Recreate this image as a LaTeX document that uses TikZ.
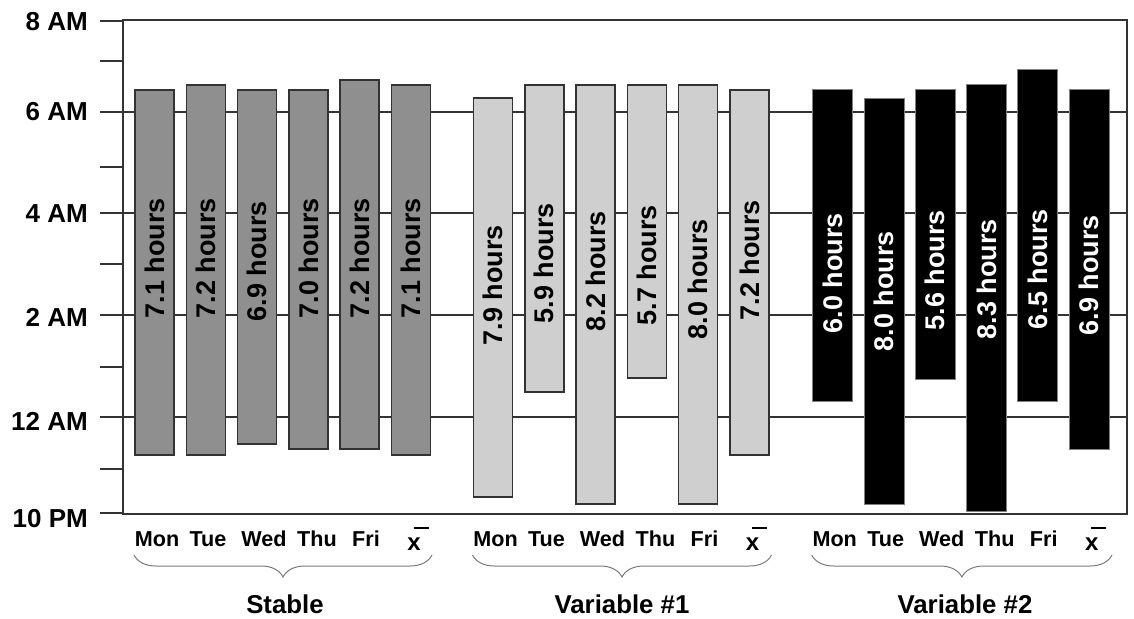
\documentclass[tikz,border=0pt]{standalone}
\usepackage{fontspec}
\setmainfont{Liberation Sans}
\usepackage{tikz}
\usetikzlibrary{decorations.pathreplacing}
\definecolor{framegray}{HTML}{333333}
\definecolor{stablegray}{HTML}{8F8F8F}
\definecolor{varlight}{HTML}{D0CFD0}
\definecolor{bracegray}{HTML}{7A7A7A}
\newcommand{\xbarlabel}{{\fontsize{24}{28}\selectfont x}\kern-0.33em\raisebox{1.0em}{\rule{0.7em}{0.08em}}}
\tikzset{
  framebox/.style={draw=framegray, line width=1.6pt},
  gridline/.style={draw=framegray, line width=1.3pt},
  hourtick/.style={draw=framegray, line width=1.6pt},
  stablebar/.style={draw=framegray, fill=stablegray, line width=1.5pt},
  varonebar/.style={draw=framegray, fill=varlight, line width=1.5pt},
  vartwobar/.style={draw=gray, fill=black, line width=1pt},
  barlabel/.style={rotate=90, inner sep=0pt, text=#1,
    font=\fontsize{27}{32}\selectfont\bfseries},
  barlabel/.default=black,
  ticklabel/.style={anchor=east, inner sep=0pt,
    font=\fontsize{26}{30}\selectfont\bfseries},
  daylabel/.style={inner sep=0pt,
    font=\fontsize{21.6}{25}\selectfont\bfseries},
  grouplabel/.style={inner sep=0pt,
    font=\fontsize{25.8}{30}\selectfont\bfseries},
  groupbrace/.style={decorate, decoration={brace, mirror, amplitude=22pt},
    draw=bracegray, line width=1pt},
}
\begin{document}
\begin{tikzpicture}[x=1pt, y=-1pt]
  \useasboundingbox (0,0) rectangle (1134,618);

  % Gridlines behind the bars
  \foreach \gy in {112,213,315,417}
    \draw[gridline] (123,\gy) -- (1127,\gy);

  % Hour ticks and labels
  \foreach \ty in {21,61,112,167,213,264,315,367,417,469,513}
    \draw[hourtick] (100,\ty) -- (123,\ty);
  \node[ticklabel] (h8am)  at (88,22)  {8 AM};
  \node[ticklabel] (h6am)  at (88,112) {6 AM};
  \node[ticklabel] (h4am)  at (88,214) {4 AM};
  \node[ticklabel] (h2am)  at (88,317) {2 AM};
  \node[ticklabel] (h12am) at (88,421) {12 AM};
  \node[ticklabel] (h10pm) at (88,519) {10 PM};

  % Stable sleepers
  \foreach \yt/\yb/\hrs/\ly [count=\i] in
    {90/455/7.1/258, 85/455/7.2/258, 90/444/6.9/261,
     90/449/7.0/258, 80/449/7.2/258, 85/455/7.1/258}
  {
    \draw[stablebar] ({135+(\i-1)*51.3},\yt) rectangle ({174+(\i-1)*51.3},\yb);
    \node[barlabel] (st\i) at ({154.5+(\i-1)*51.3},\ly) {\hrs\ hours};
  }

  % Variable #1
  \foreach \yt/\yb/\hrs/\ly [count=\i] in
    {98/497/7.9/285, 85/392/5.9/263, 85/504/8.2/271,
     85/378/5.7/265, 85/504/8.0/279, 90/455/7.2/260}
  {
    \draw[varonebar] ({473.5+(\i-1)*51.3},\yt) rectangle ({512.5+(\i-1)*51.3},\yb);
    \node[barlabel] (vo\i) at ({493+(\i-1)*51.3},\ly) {\hrs\ hours};
  }

  % Variable #2
  \foreach \yt/\yb/\hrs/\ly [count=\i] in
    {89/401/6.0/273, 98/504/8.0/291, 89/379/5.6/270,
     84/511/8.3/279, 69/401/6.5/269, 89/449/6.9/275}
  {
    \draw[vartwobar] ({812.7+(\i-1)*51.3},\yt) rectangle ({852.7+(\i-1)*51.3},\yb);
    \node[barlabel=white] (vt\i) at ({832.7+(\i-1)*51.3},\ly) {\hrs\ hours};
  }

  % Plot frame
  \draw[framebox] (123,20) rectangle (1127,514);

  % Day labels under each group
  \foreach \gx/\gn in {135/st, 473.5/vo, 812.7/vt}
    \foreach \dname/\dx [count=\j] in
      {Mon/22, Tue/73, Wed/129, Thu/182, Fri/231, \xbarlabel/283}
      \node[daylabel] (day-\gn-\j) at (\gx+\dx,539) {\dname};

  % Braces and group names
  \coordinate (stl) at (134,555);   \coordinate (str) at (432,555);
  \coordinate (vol) at (472.5,555); \coordinate (vor) at (771.5,555);
  \coordinate (vtl) at (811.7,555); \coordinate (vtr) at (1112,555);
  \draw[groupbrace] (stl) -- (str);
  \draw[groupbrace] (vol) -- (vor);
  \draw[groupbrace] (vtl) -- (vtr);
  \node[grouplabel] (stable) at (285,604) {Stable};
  \node[grouplabel] (varone) at (622,604) {Variable \#1};
  \node[grouplabel] (vartwo) at (965,604) {Variable \#2};
\end{tikzpicture}
\end{document}
